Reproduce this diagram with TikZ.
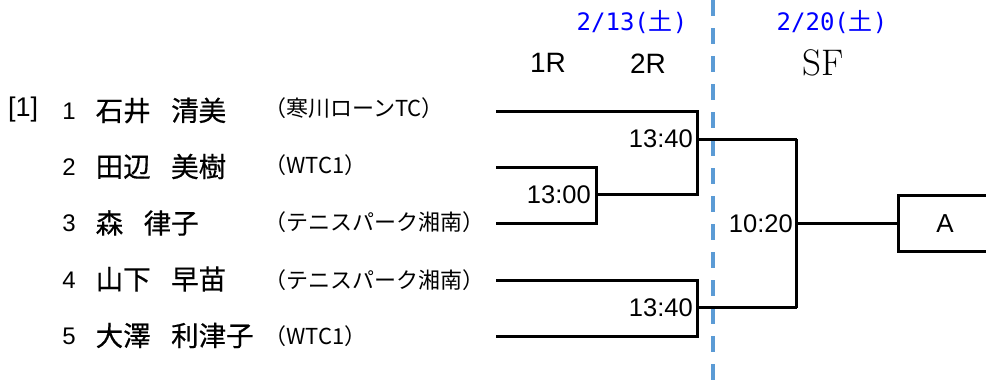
\documentclass[tikz,border=0pt]{standalone}
\usepackage{fontspec}
\setsansfont{Liberation Sans}
\newfontfamily\jpfont{Noto Sans CJK JP}
\newfontfamily\jpfontb[FakeBold=0.5]{Noto Sans CJK JP}
\newfontfamily\dmono{DejaVu Sans Mono}
\definecolor{dashblue}{RGB}{91,155,213}
\definecolor{dateblue}{RGB}{0,0,255}
\newcommand{\nsp}{\hspace{20.5pt}}
\begin{document}
\begin{tikzpicture}[x=1pt,y=-1pt,
  bk/.style={line width=3pt, black},
  nm/.style={font=\jpfontb\fontsize{27.5}{30}\selectfont, inner sep=0pt, anchor=west},
  club/.style={font=\jpfont\fontsize{22}{24}\selectfont, inner sep=0pt, anchor=west},
  num/.style={font=\sffamily\fontsize{24}{26}\selectfont, inner sep=0pt, anchor=east},
  tm/.style={font=\sffamily\fontsize{25.5}{28}\selectfont, inner sep=0pt, anchor=east},
  rd/.style={font=\sffamily\fontsize{28}{30}\selectfont, inner sep=0pt},
  dt/.style={text=dateblue, inner sep=0pt, font=\fontsize{24}{26}\selectfont},
]
\useasboundingbox (0,0) rectangle (986,380);
\begin{scope}
\clip (0,0) rectangle (986,380);

% dashed divider
\coordinate (dtop) at (713,0);
\coordinate (dbot) at (713,380);
\draw[dashblue, line width=4pt, dash pattern=on 16pt off 12pt] (dtop) -- (dbot);

% headers
\node[dt] (d1) at (632,22) {{\dmono 2/13(}{\jpfont 土}{\dmono )}};
\node[dt] (d2) at (832,22) {{\dmono 2/20(}{\jpfont 土}{\dmono )}};
\node[rd] (h1) at (548,63.3) {1R};
\node[rd] (h2) at (648,63.3) {2R};
\node[inner sep=0pt, font=\rmfamily\fontsize{37}{40}\selectfont] (h3) at (823,63.3) {SF};

% seed
\node[font=\sffamily\fontsize{27}{29}\selectfont, inner sep=0pt, anchor=west] (seed) at (8,110) {[1]};

% numbers
\node[num] (n1) at (76,111) {1};
\node[num] (n2) at (76,167) {2};
\node[num] (n3) at (76,223) {3};
\node[num] (n4) at (76,280) {4};
\node[num] (n5) at (76,336) {5};

% names
\node[nm] (m1) at (95.5,110.5) {石井\nsp 清美};
\node[nm] (m2) at (95.5,166.5) {田辺\nsp 美樹};
\node[nm] (m3) at (95.5,223) {森\nsp 律子};
\node[nm] (m4) at (95.5,279) {山下\nsp 早苗};
\node[nm] (m5) at (95.5,335.5) {大澤\nsp 利津子};

% clubs
\node[club] (c1) at (264,108) {（寒川ローンTC）};
\node[club] (c2) at (264,165) {（WTC1）};
\node[club] (c3) at (264,222) {（テニスパーク湘南）};
\node[club] (c4) at (264,280) {（テニスパーク湘南）};
\node[club] (c5) at (264,336) {（WTC1）};

% bracket coordinates
\coordinate (L1) at (496,111);
\coordinate (L2) at (496,167);
\coordinate (L3) at (496,223);
\coordinate (L4) at (496,280);
\coordinate (L5) at (496,336);
\coordinate (r1) at (596.7,194.7);
\coordinate (q1) at (697.3,194.7);
\coordinate (w1) at (697.3,139.2);
\coordinate (s1) at (796.7,139.2);
\coordinate (w2) at (697.3,307.5);
\coordinate (s2) at (796.7,307.5);
\coordinate (f) at (796.7,223.4);

% box A
\node[draw, line width=3pt, minimum width=94pt, minimum height=56pt, inner sep=0pt,
      font=\sffamily\fontsize{26}{28}\selectfont] (A) at (945,223.4) {A};

% bracket lines
\draw[bk] (L2) -| (r1) |- (L3);
\draw[bk] (L1) -| (q1) -- (r1);
\draw[bk] (w1) -- (s1);
\draw[bk] (L4) -| (w2) |- (L5);
\draw[bk] (w2) -- (s2);
\draw[bk] (s1) -- (s2);
\draw[bk] (f) -- (A.west);

% times
\node[tm] (t1) at (693,139.2) {13:40};
\node[tm] (t2) at (591,194.7) {13:00};
\node[tm] (t3) at (793,223.4) {10:20};
\node[tm] (t4) at (693,307.5) {13:40};
\end{scope}
\end{tikzpicture}
\end{document}
